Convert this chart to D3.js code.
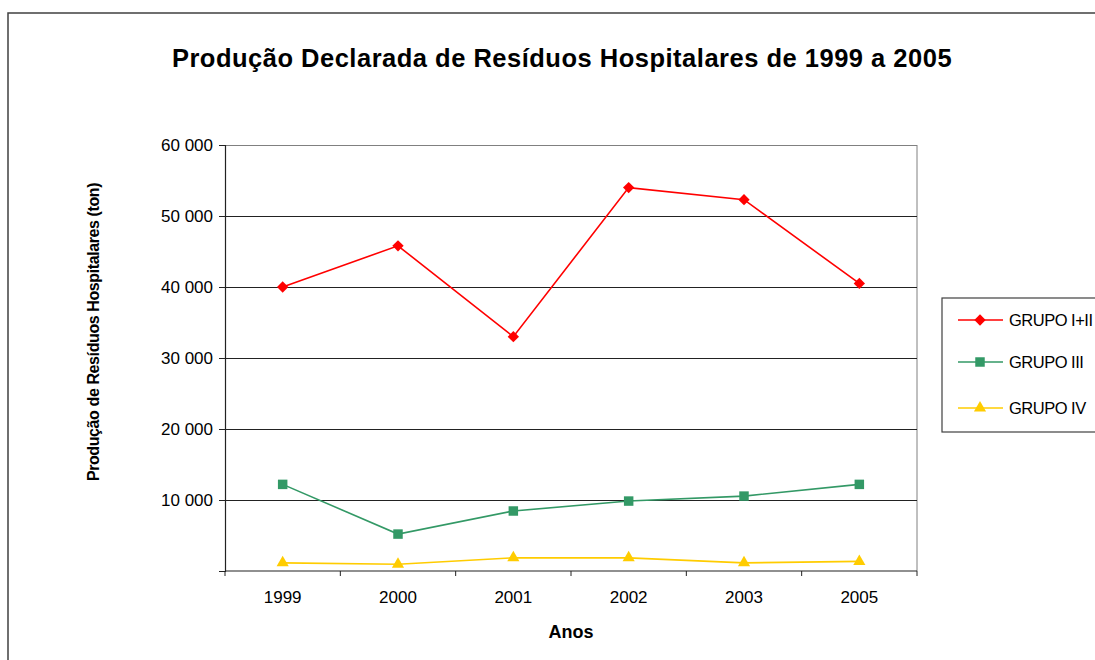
<!DOCTYPE html>
<html>
<head>
<meta charset="utf-8">
<script src="https://cdn.jsdelivr.net/npm/d3@7"></script>
<style>
  html, body { margin: 0; padding: 0; background: #fff; }
  svg { display: block; font-family: "Liberation Sans", Arial, sans-serif; }
</style>
</head>
<body>
<svg id="chart" width="1095" height="660"></svg>
<script>
const title = "Produção Declarada de Resíduos Hospitalares de 1999 a 2005";
const yTitle = "Produção de Resíduos Hospitalares (ton)";
const xTitle = "Anos";
const categories = ["1999", "2000", "2001", "2002", "2003", "2005"];
const grupoI_II = [40000, 45800, 33000, 54000, 52300, 40500];
const grupoIII = [12200, 5200, 8450, 9850, 10550, 12200];
const grupoIV = [1150, 950, 1850, 1850, 1150, 1350];
const yTicks = [0, 10000, 20000, 30000, 40000, 50000, 60000];
const yTickLabels = ["", "10 000", "20 000", "30 000", "40 000", "50 000", "60 000"];
const seriesNames = ["GRUPO I+II", "GRUPO III", "GRUPO IV"];

const series = [
  { name: seriesNames[0], values: grupoI_II, color: "#ff0000", symbol: d3.symbolSquare, size: 64, rot: 45 },
  { name: seriesNames[1], values: grupoIII, color: "#339966", symbol: d3.symbolSquare, size: 90, rot: 0 },
  { name: seriesNames[2], values: grupoIV, color: "#ffcc00", symbol: d3.symbolTriangle, size: 64, rot: 0 }
];

const svg = d3.select("#chart");
const plot = { left: 225, top: 145, right: 917, bottom: 571 };

// outer chart border
svg.append("rect").attr("x", 8).attr("y", 13).attr("width", 1200).attr("height", 700)
  .attr("fill", "none").attr("stroke", "#404040").attr("stroke-width", 1.5);

svg.append("text").attr("x", 562).attr("y", 67).attr("text-anchor", "middle")
  .attr("font-size", 25.5).attr("font-weight", "bold").attr("letter-spacing", 0.5).text(title);

const x = d3.scaleBand().domain(categories).range([plot.left, plot.right]);
const y = d3.scaleLinear().domain([0, 60000]).range([plot.bottom, plot.top]);

// plot area right border
svg.append("line").attr("x1", plot.right).attr("x2", plot.right)
  .attr("y1", plot.top).attr("y2", plot.bottom).attr("stroke", "#808080").attr("stroke-width", 1);

// gridlines
svg.append("g").selectAll("line").data(yTicks.filter(d => d > 0)).join("line")
  .attr("x1", plot.left).attr("x2", plot.right)
  .attr("y1", d => Math.round(y(d)) + 0.5).attr("y2", d => Math.round(y(d)) + 0.5)
  .attr("stroke", d => d === 60000 ? "#808080" : "#222").attr("stroke-width", 1);

// y axis
const yAxis = d3.axisLeft(y).tickValues(yTicks).tickSize(6).tickPadding(6)
  .tickFormat((d, i) => yTickLabels[i]);
const gy = svg.append("g").attr("transform", `translate(${plot.left},0)`).call(yAxis);
gy.select(".domain").attr("stroke", "#222").attr("stroke-width", 1.2);
gy.selectAll(".tick line").attr("stroke", "#222");
gy.selectAll("text").attr("font-size", 17).attr("fill", "#000")
  .attr("font-family", "Liberation Sans, Arial, sans-serif");

// x axis with ticks at band boundaries
const gx = svg.append("g").attr("transform", `translate(0,${plot.bottom})`);
gx.append("line").attr("x1", plot.left).attr("x2", plot.right).attr("y1", 0).attr("y2", 0)
  .attr("stroke", "#222").attr("stroke-width", 1.2);
const bounds = categories.map(c => x(c)).concat([plot.right]);
gx.selectAll("line.tk").data(bounds).join("line").attr("class", "tk")
  .attr("x1", d => d).attr("x2", d => d).attr("y1", 0).attr("y2", 5).attr("stroke", "#222");
gx.selectAll("text").data(categories).join("text")
  .attr("x", d => x(d) + x.bandwidth() / 2).attr("y", 32)
  .attr("text-anchor", "middle").attr("font-size", 17).text(d => d);

// axis titles
svg.append("text").attr("x", 571).attr("y", 638).attr("text-anchor", "middle")
  .attr("font-size", 18).attr("font-weight", "bold").text(xTitle);
svg.append("text").attr("transform", "translate(99,332) rotate(-90)").attr("text-anchor", "middle")
  .attr("font-size", 16).attr("font-weight", "bold").attr("letter-spacing", -0.4).text(yTitle);

// lines and markers
const line = d3.line().x((d, i) => x(categories[i]) + x.bandwidth() / 2).y(d => y(d));
series.forEach(s => {
  svg.append("path").datum(s.values).attr("d", line)
    .attr("fill", "none").attr("stroke", s.color).attr("stroke-width", 1.6);
  svg.append("g").selectAll("path").data(s.values).join("path")
    .attr("d", d3.symbol().type(s.symbol).size(s.size))
    .attr("transform", (d, i) => `translate(${x(categories[i]) + x.bandwidth() / 2},${y(d)}) rotate(${s.rot})`)
    .attr("fill", s.color);
});

// legend
const lg = svg.append("g");
lg.append("rect").attr("x", 942).attr("y", 298).attr("width", 200).attr("height", 134)
  .attr("fill", "#fff").attr("stroke", "#404040").attr("stroke-width", 1.2);
const rows = [320, 362, 408];
series.forEach((s, i) => {
  const yy = rows[i];
  lg.append("line").attr("x1", 958).attr("x2", 1003).attr("y1", yy).attr("y2", yy)
    .attr("stroke", s.color).attr("stroke-width", 1.6);
  lg.append("path").attr("d", d3.symbol().type(s.symbol).size(s.size))
    .attr("transform", `translate(980,${yy}) rotate(${s.rot})`).attr("fill", s.color);
  lg.append("text").attr("x", 1009).attr("y", yy + 6).attr("font-size", 16.5)
    .attr("letter-spacing", -0.5).text(s.name);
});
</script>
</body>
</html>
